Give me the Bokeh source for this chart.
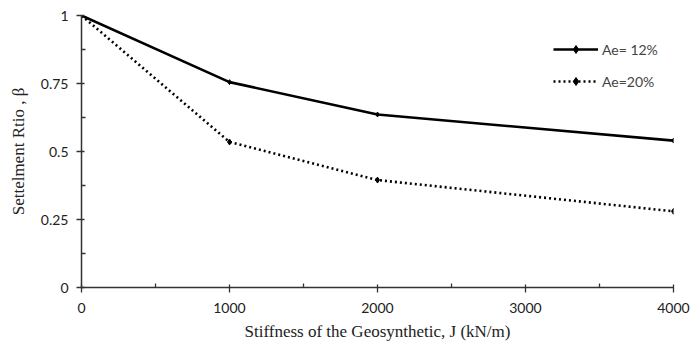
from bokeh.plotting import figure
from bokeh.models import FixedTicker, Legend, LegendItem
from bokeh.embed import file_html
from bokeh.resources import INLINE

stiffness = [0, 1000, 2000, 4000]
ratio_12 = [1.0, 0.755, 0.636, 0.54]
ratio_20 = [1.0, 0.535, 0.395, 0.28]
x_ticks = [0, 1000, 2000, 3000, 4000]
y_ticks = [0, 0.25, 0.5, 0.75, 1]
y_tick_labels = {0: "0", 0.25: "0.25", 0.5: "0.5", 0.75: "0.75", 1: "1"}

p = figure(width=692, height=351, output_backend="svg", toolbar_location=None,
           x_range=(0, 4000), y_range=(0, 1),
           min_border_left=81, min_border_right=19, min_border_top=15, min_border_bottom=64)
p.outline_line_color = None
p.grid.visible = False
p.background_fill_color = "white"

l1 = p.line(stiffness, ratio_12, line_color="black", line_width=2.6)
m1 = p.scatter(stiffness, ratio_12, marker="diamond", size=5, color="black")
l2 = p.line(stiffness, ratio_20, line_color="black", line_width=2.6, line_dash="2 3")
m2 = p.scatter(stiffness, ratio_20, marker="diamond", size=6, color="black")

for ax in (p.xaxis[0], p.yaxis[0]):
    ax.axis_line_color = "#333333"
    ax.axis_line_width = 1.5
    ax.major_tick_line_color = "#333333"
    ax.minor_tick_line_color = "#333333"
    ax.major_tick_line_width = 1.3
    ax.minor_tick_line_width = 1.3
    ax.major_tick_in = 3
    ax.major_tick_out = 5
    ax.minor_tick_in = 4
    ax.minor_tick_out = 0
    ax.major_label_text_font = "Lato"
    ax.major_label_text_font_size = "14px"
    ax.major_label_text_color = "#222222"
    ax.axis_label_text_font = "Liberation Serif"
    ax.axis_label_text_font_size = "17px"
    ax.axis_label_text_font_style = "normal"
    ax.axis_label_text_color = "#222222"

p.xaxis.ticker = FixedTicker(ticks=x_ticks, minor_ticks=[500, 1500, 2500, 3500])
p.yaxis.ticker = FixedTicker(ticks=y_ticks, minor_ticks=[0.125, 0.375, 0.625, 0.875])
p.yaxis.major_label_overrides = y_tick_labels
p.xaxis.axis_label = "Stiffness of the Geosynthetic, J (kN/m)"
p.yaxis.axis_label = "Settelment Rtio , β"
p.xaxis.major_label_standoff = 10
p.yaxis.major_label_standoff = 8
p.xaxis.axis_label_standoff = 6
p.yaxis.axis_label_standoff = 10

legend = Legend(items=[LegendItem(label="Ae= 12%", renderers=[l1, m1]),
                       LegendItem(label="Ae=20%", renderers=[l2, m2])],
                location=(472, 196))
legend.border_line_color = None
legend.background_fill_alpha = 0
legend.label_text_font = "Lato"
legend.label_text_font_size = "14px"
legend.glyph_width = 45
legend.spacing = 12
legend.margin = 0
legend.padding = 5
legend.label_standoff = 4
p.add_layout(legend)

open("out.html", "w").write(file_html(p, INLINE))
